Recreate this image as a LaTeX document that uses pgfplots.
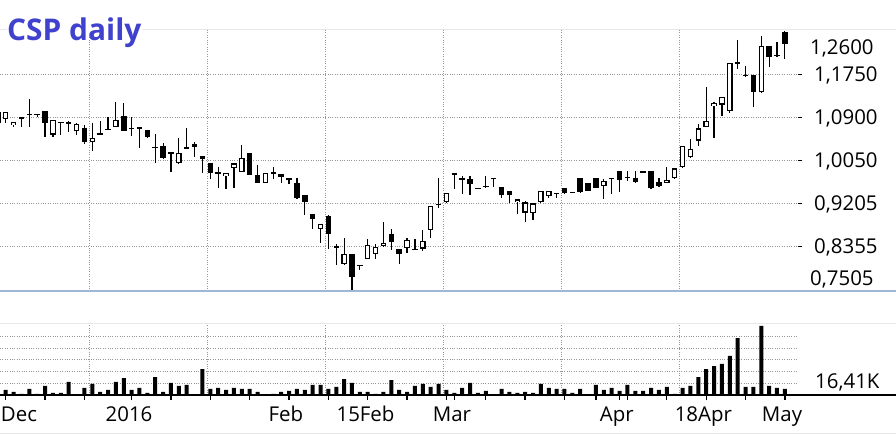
\documentclass[border=0pt]{standalone}
\usepackage{pgfplots}
\pgfplotsset{compat=1.18}
\usepackage{pgfplotstable}
\usepackage{fontspec}
\setmainfont{Open Sans}

\definecolor{titleblue}{RGB}{64,66,206}
\definecolor{gridgray}{RGB}{150,150,150}
\definecolor{panelline}{RGB}{232,232,232}
\definecolor{baseblue}{RGB}{160,182,214}

% i: session, o h l c: prices, t: 1 = falling or doji, 0 = rising, v: volume (K)
\pgfplotstableread{
i o h l c t v
1 1.100 1.102 1.077 1.079 1 6.0
2 1.087 1.100 1.078 1.100 0 7.0
3 1.074 1.080 1.070 1.080 0 4.2
4 1.089 1.089 1.070 1.089 1 1.4
5 1.096 1.126 1.071 1.096 1 8.4
6 1.096 1.096 1.091 1.096 1 1.4
7 1.102 1.102 1.052 1.078 1 12.6
8 1.056 1.084 1.052 1.084 0 2.8
9 1.080 1.080 1.055 1.080 1 2.8
10 1.079 1.083 1.060 1.079 1 18.2
11 1.062 1.079 1.055 1.077 0 0
12 1.068 1.075 1.037 1.042 1 9.8
13 1.042 1.078 1.024 1.049 0 15.4
14 1.057 1.083 1.057 1.057 1 4.2
15 1.066 1.090 1.064 1.066 1 7.0
16 1.071 1.120 1.070 1.084 0 18.2
17 1.093 1.118 1.062 1.063 1 23.7
18 1.068 1.090 1.054 1.068 1 7.0
19 1.070 1.070 1.030 1.066 1 9.8
20 1.064 1.064 1.049 1.052 1 2.8
21 1.031 1.058 1.000 1.031 1 25.1
22 1.033 1.039 1.008 1.010 1 4.2
23 1.020 1.020 0.983 1.020 1 16.8
24 1.000 1.049 0.998 1.020 0 12.6
25 1.030 1.068 1.030 1.030 1 14.0
26 1.037 1.041 1.012 1.032 1 0
27 1.013 1.013 0.981 1.008 1 36.3
28 1.000 1.000 0.969 0.981 1 8.4
29 0.980 0.991 0.951 0.980 1 9.8
30 0.974 0.980 0.949 0.980 0 7.0
31 0.989 0.999 0.951 0.999 0 9.8
32 0.982 1.035 0.982 1.009 0 8.4
33 1.020 1.020 0.976 0.977 1 8.4
34 0.976 0.996 0.961 0.961 1 4.2
35 0.961 0.980 0.961 0.980 0 0
36 0.980 0.991 0.969 0.980 1 1.4
37 0.978 0.978 0.960 0.972 1 4.2
38 0.969 0.969 0.958 0.969 1 5.6
39 0.960 0.970 0.928 0.930 1 8.4
40 0.937 0.937 0.897 0.922 1 7.0
41 0.899 0.899 0.870 0.889 1 14.0
42 0.870 0.879 0.843 0.879 0 14.0
43 0.895 0.897 0.831 0.860 1 8.4
44 0.835 0.840 0.799 0.835 1 11.2
45 0.801 0.851 0.799 0.820 0 22.3
46 0.820 0.820 0.749 0.776 1 16.8
47 0.798 0.798 0.788 0.798 1 4.2
48 0.811 0.850 0.811 0.838 0 4.2
49 0.820 0.840 0.811 0.834 0 1.4
50 0.837 0.884 0.835 0.842 0 4.2
51 0.860 0.870 0.829 0.845 1 20.9
52 0.830 0.830 0.801 0.821 1 7.0
53 0.832 0.851 0.823 0.848 0 4.2
54 0.830 0.850 0.828 0.830 1 12.6
55 0.831 0.868 0.827 0.846 0 15.4
56 0.867 0.915 0.851 0.915 0 11.2
57 0.918 0.970 0.912 0.918 1 15.4
58 0.922 0.940 0.920 0.940 0 7.0
59 0.980 0.980 0.949 0.976 1 2.8
60 0.969 0.974 0.939 0.969 1 9.8
61 0.968 0.974 0.937 0.958 1 16.8
62 0.950 0.950 0.950 0.950 1 2.8
63 0.954 0.974 0.950 0.954 1 5.6
64 0.970 0.970 0.953 0.970 1 0
65 0.952 0.952 0.931 0.936 1 8.4
66 0.944 0.944 0.920 0.936 1 4.2
67 0.922 0.928 0.899 0.928 0 2.8
68 0.902 0.925 0.884 0.922 0 4.2
69 0.901 0.920 0.887 0.920 0 2.8
70 0.922 0.944 0.920 0.944 0 15.4
71 0.935 0.944 0.930 0.944 0 9.8
72 0.940 0.940 0.930 0.940 1 8.4
73 0.950 0.950 0.939 0.941 1 8.4
74 0.942 0.942 0.942 0.942 1 2.8
75 0.970 0.970 0.941 0.943 1 8.4
76 0.960 0.960 0.945 0.945 1 0
77 0.970 0.970 0.950 0.951 1 14.0
78 0.954 0.968 0.929 0.964 0 7.0
79 0.970 0.970 0.939 0.970 1 9.8
80 0.984 0.984 0.943 0.967 1 5.6
81 0.972 0.984 0.965 0.972 1 14.0
82 0.970 0.984 0.961 0.963 1 5.6
83 0.982 0.982 0.982 0.982 1 5.6
84 0.984 0.984 0.949 0.951 1 9.8
85 0.962 0.970 0.952 0.954 1 7.0
86 0.961 0.991 0.960 0.966 0 11.2
87 0.970 0.989 0.968 0.989 0 1.4
88 0.991 1.033 0.989 1.033 0 9.8
89 1.012 1.047 1.010 1.027 0 12.6
90 1.044 1.077 1.033 1.068 0 25.1
91 1.071 1.149 1.070 1.083 0 36.3
92 1.112 1.121 1.050 1.118 0 40.5
93 1.115 1.130 1.093 1.130 0 43.3
94 1.103 1.197 1.099 1.197 0 54.5
95 1.198 1.242 1.185 1.198 1 79.6
96 1.173 1.191 1.170 1.173 1 11.2
97 1.173 1.173 1.110 1.139 1 11.2
98 1.139 1.251 1.137 1.230 0 96.4
99 1.231 1.231 1.189 1.208 1 12.6
100 1.212 1.238 1.208 1.212 1 9.8
101 1.258 1.260 1.205 1.235 1 8.4
}\csp

\begin{document}
\begin{tikzpicture}
\path[use as bounding box] (0,0) rectangle (896bp,435bp);

% price panel
\begin{axis}[
  at={(0bp,144bp)}, anchor=south west,
  width=798bp, height=261bp, scale only axis,
  xmin=1.2757, xmax=102.67, ymin=0.7474, ymax=1.2621,
  axis line style={draw=none},
  tick label style={font=\fontsize{20.5}{24}\selectfont},
  xtick={12.62,27.62,42.62,57.62,72.62,87.62}, xticklabels={},
  xtick style={draw=none},
  ytick={0.8355,0.9205,1.005,1.09,1.175},
  yticklabels={0{,}8355,0{,}9205,1{,}0050,1{,}0900,1{,}1750},
  extra y ticks={0.7731,1.2286},
  extra y tick labels={0{,}7505,1{,}2600},
  extra y tick style={grid=none, major tick length=0pt},
  ytick pos=right, yticklabel pos=right,
  tick align=outside, major tick length=4bp,
  ytick style={black, line width=1bp},
  yticklabel style={anchor=base west, inner sep=0pt, xshift=12bp, yshift=-7.3bp},
  grid=major, grid style={dotted, line width=1bp, gridgray},
]
% wicks
\addplot[draw=none, mark=none,
  error bars/.cd, y dir=both, y explicit, error mark=none,
  error bar style={draw=black, line width=1.2bp}]
  table[x=i, y expr={(\thisrow{h}+\thisrow{l})/2},
        y error expr={(\thisrow{h}-\thisrow{l})/2}]{\csp};
% falling candles and doji
\addplot[draw=none, mark=none, restrict expr to domain={\thisrow{t}}{0.5:1.5},
  error bars/.cd, y dir=both, y explicit, error mark=none,
  error bar style={draw=black, line width=5.5bp}]
  table[x=i, y expr={(\thisrow{o}+\thisrow{c})/2},
        y error expr={max(abs(\thisrow{c}-\thisrow{o})/2,0.0011)}]{\csp};
% rising candles: outline, then hollow inside
\addplot[draw=none, mark=none, restrict expr to domain={\thisrow{t}}{-0.5:0.5},
  error bars/.cd, y dir=both, y explicit, error mark=none,
  error bar style={draw=black, line width=5.5bp}]
  table[x=i, y expr={(\thisrow{o}+\thisrow{c})/2},
        y error expr={abs(\thisrow{c}-\thisrow{o})/2}]{\csp};
\addplot[draw=none, mark=none, restrict expr to domain={\thisrow{t}}{-0.5:0.5},
  error bars/.cd, y dir=both, y explicit, error mark=none,
  error bar style={draw=white, line width=3.2bp}]
  table[x=i, y expr={(\thisrow{o}+\thisrow{c})/2},
        y error expr={max(abs(\thisrow{c}-\thisrow{o})/2-0.0022,0)}]{\csp};
\end{axis}

% volume panel
\begin{axis}[
  at={(0bp,40bp)}, anchor=south west,
  width=798bp, height=70.5bp, scale only axis,
  xmin=1.2757, xmax=102.67, ymin=0, ymax=98.46,
  axis line style={draw=none},
  tick label style={font=\fontsize{20.5}{24}\selectfont},
  xtick={2,7,12,18,23,28,33,38,43,48,53,58,59,63,68,73,77,80,81,86,91,96,101},
  xticklabels={},
  minor xtick={12.62,27.62,42.62,57.62,72.62,87.62},
  xminorgrids=true, minor tick length=0pt,
  extra x ticks={3.69,17.67,37.59,47.72,58.7,79.65,90.64,100.64},
  extra x tick labels={Dec,2016,Feb,15Feb,Mar,Apr,18Apr,May},
  extra x tick style={major tick length=0pt, grid=none},
  xticklabel style={anchor=base, inner sep=0pt, yshift=-26.7bp},
  xtick pos=left, tick align=outside, major tick length=5bp,
  xtick style={black, line width=1.3bp},
  ytick={16.41,32.82,49.23,65.64,82.05}, yticklabels={},
  ymajorgrids=true, ytick style={draw=none},
  extra y ticks={19.55}, extra y tick labels={16{,}41K},
  extra y tick style={grid=none},
  yticklabel pos=right,
  yticklabel style={anchor=base west, inner sep=0pt, xshift=12bp, yshift=-7.3bp},
  grid style={dotted, line width=1bp, gridgray},
]
\addplot[ybar, bar width=4bp, bar shift=0pt, fill=black, draw=none]
  table[x=i, y=v]{\csp};
\end{axis}

% panel borders
\draw[panelline, line width=1bp] (0,405bp) -- (896bp,405bp);
\draw[baseblue, line width=2bp] (0,144bp) -- (896bp,144bp);
\draw[panelline, line width=1bp] (0,111.5bp) -- (896bp,111.5bp);
\draw[black, line width=1.3bp] (0,40bp) -- (896bp,40bp);
\draw[panelline, line width=1bp] (0,1.5bp) -- (896bp,1.5bp);

% title
\fill[white] (7bp,398bp) rectangle (142bp,435bp);
\node[anchor=base west, inner sep=0pt, text=titleblue,
  font=\fontsize{30}{36}\selectfont\bfseries] at (7bp,394bp) {CSP daily};
\end{tikzpicture}
\end{document}
